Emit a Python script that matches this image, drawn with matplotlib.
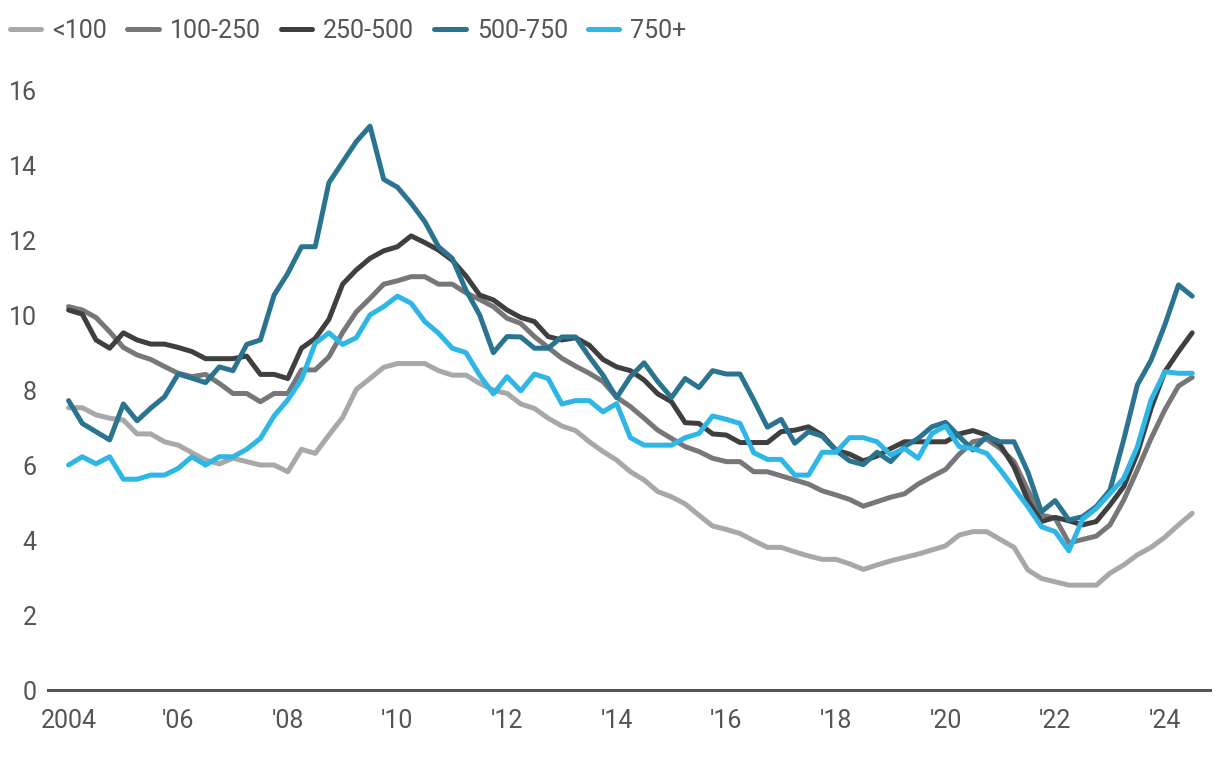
import matplotlib
matplotlib.use("Agg")
import matplotlib.pyplot as plt
import numpy as np

# Quarterly data, 2004 Q1 .. 2024 Q3
start_year = 2004
series_labels = ["<100", "100-250", "250-500", "500-750", "750+"]

lt100 = [7.54, 7.54, 7.35, 7.26, 7.21, 6.84, 6.84, 6.63, 6.54, 6.34,
         6.14, 6.04, 6.19, 6.10, 6.01, 6.01, 5.83, 6.43, 6.32, 6.81,
         7.28, 8.03, 8.32, 8.62, 8.72, 8.72, 8.72, 8.53, 8.41, 8.41,
         8.19, 8.01, 7.92, 7.64, 7.52, 7.26, 7.05, 6.93, 6.63, 6.37,
         6.14, 5.83, 5.61, 5.30, 5.16, 4.97, 4.67, 4.38, 4.29, 4.18,
         3.99, 3.81, 3.81, 3.69, 3.58, 3.49, 3.49, 3.37, 3.22, 3.34,
         3.45, 3.54, 3.63, 3.74, 3.85, 4.14, 4.23, 4.23, 4.02, 3.81,
         3.21, 2.98, 2.89, 2.80, 2.80, 2.80, 3.12, 3.34, 3.61, 3.81,
         4.08, 4.41, 4.72]

s100_250 = [10.24, 10.15, 9.95, 9.57, 9.15, 8.95, 8.83, 8.64, 8.46, 8.37,
            8.43, 8.19, 7.92, 7.92, 7.70, 7.92, 7.92, 8.55, 8.55, 8.90,
            9.55, 10.10, 10.46, 10.84, 10.93, 11.04, 11.04, 10.84, 10.84, 10.61,
            10.43, 10.24, 9.93, 9.79, 9.44, 9.15, 8.86, 8.65, 8.46, 8.24,
            7.82, 7.57, 7.26, 6.94, 6.72, 6.50, 6.37, 6.19, 6.10, 6.10,
            5.83, 5.83, 5.72, 5.61, 5.50, 5.32, 5.21, 5.09, 4.91, 5.03,
            5.15, 5.24, 5.50, 5.70, 5.89, 6.30, 6.63, 6.70, 6.45, 6.10,
            5.34, 4.67, 4.59, 3.93, 4.02, 4.11, 4.41, 5.07, 5.88, 6.72,
            7.48, 8.12, 8.35]

s250_500 = [10.15, 10.04, 9.35, 9.13, 9.54, 9.35, 9.24, 9.24, 9.15, 9.04,
            8.85, 8.85, 8.85, 8.92, 8.43, 8.43, 8.32, 9.13, 9.39, 9.90,
            10.84, 11.22, 11.53, 11.73, 11.84, 12.13, 11.95, 11.75, 11.48, 11.06,
            10.55, 10.42, 10.15, 9.95, 9.84, 9.44, 9.35, 9.41, 9.21, 8.83,
            8.63, 8.53, 8.28, 7.91, 7.70, 7.14, 7.12, 6.84, 6.81, 6.61,
            6.61, 6.61, 6.90, 6.94, 7.03, 6.81, 6.41, 6.30, 6.12, 6.25,
            6.45, 6.63, 6.63, 6.63, 6.63, 6.84, 6.93, 6.81, 6.54, 5.96,
            5.07, 4.50, 4.61, 4.52, 4.41, 4.50, 4.94, 5.43, 6.32, 7.52,
            8.50, 9.04, 9.54]

s500_750 = [7.73, 7.12, 6.90, 6.68, 7.64, 7.19, 7.53, 7.83, 8.44, 8.33,
            8.21, 8.63, 8.53, 9.23, 9.35, 10.55, 11.13, 11.84, 11.84, 13.55,
            14.10, 14.65, 15.06, 13.64, 13.43, 13.00, 12.51, 11.84, 11.53, 10.68,
            10.02, 9.01, 9.44, 9.43, 9.13, 9.13, 9.43, 9.43, 8.90, 8.41,
            7.81, 8.37, 8.74, 8.24, 7.81, 8.32, 8.08, 8.53, 8.44, 8.44,
            7.75, 7.02, 7.23, 6.59, 6.90, 6.78, 6.40, 6.12, 6.02, 6.35,
            6.10, 6.50, 6.72, 7.03, 7.15, 6.77, 6.41, 6.77, 6.63, 6.63,
            5.83, 4.76, 5.06, 4.54, 4.63, 4.90, 5.34, 6.68, 8.15, 8.81,
            9.75, 10.82, 10.52]

s750p = [6.01, 6.23, 6.04, 6.23, 5.63, 5.63, 5.74, 5.74, 5.92, 6.23,
         6.01, 6.23, 6.23, 6.43, 6.72, 7.32, 7.75, 8.30, 9.26, 9.54,
         9.23, 9.41, 10.02, 10.24, 10.52, 10.33, 9.84, 9.53, 9.13, 9.01,
         8.41, 7.91, 8.37, 7.99, 8.44, 8.32, 7.64, 7.73, 7.73, 7.43,
         7.65, 6.74, 6.54, 6.54, 6.54, 6.74, 6.85, 7.32, 7.23, 7.12,
         6.34, 6.16, 6.16, 5.74, 5.74, 6.35, 6.35, 6.74, 6.74, 6.63,
         6.28, 6.45, 6.19, 6.85, 7.05, 6.50, 6.45, 6.32, 5.88, 5.39,
         4.90, 4.36, 4.23, 3.72, 4.56, 4.85, 5.25, 5.65, 6.50, 7.75,
         8.50, 8.46, 8.46]

colors = ["#a7a8aa", "#77777a", "#3f3f3f", "#2a7490", "#2eb6e6"]

tick_years = [2004, 2006, 2008, 2010, 2012, 2014, 2016, 2018, 2020, 2022, 2024]
tick_labels = ["2004", "'06", "'08", "'10", "'12", "'14", "'16", "'18", "'20", "'22", "'24"]
y_ticks = [0, 2, 4, 6, 8, 10, 12, 14, 16]

plt.rcParams['font.family'] = ['Roboto', 'DejaVu Sans']
text_color = "#555555"

fig = plt.figure(figsize=(12.2, 7.78), dpi=100)
ax = fig.add_axes([48 / 1220, 1 - 690 / 778, (1210 - 48) / 1220, (690 - 91) / 778])

all_series = [lt100, s100_250, s250_500, s500_750, s750p]
n = len(lt100)
x = start_year + np.arange(n) / 4.0
for vals, lab, col in zip(all_series, series_labels, colors):
    ax.plot(x, vals, color=col, lw=3.6, label=lab,
            solid_capstyle='round', solid_joinstyle='round')

ax.set_xlim(start_year - 1.5 / 4, start_year + 83.3 / 4)
ax.set_ylim(0, 16)
ax.set_xticks(tick_years)
ax.set_xticklabels(tick_labels)
ax.set_yticks(y_ticks)
ax.tick_params(axis='both', length=0, labelsize=18, labelcolor=text_color)
ax.tick_params(axis='y', pad=8)
ax.tick_params(axis='x', pad=14)
for s in ['top', 'right', 'left']:
    ax.spines[s].set_visible(False)
ax.spines['bottom'].set_color('#555555')
ax.spines['bottom'].set_linewidth(2.2)
ax.set_facecolor('white')

fig.legend(loc='center left', bbox_to_anchor=(10 / 1220, 1 - 31 / 778),
           ncol=5, frameon=False, fontsize=18, labelcolor=text_color,
           handlelength=1.25, handletextpad=0.45, columnspacing=0.8,
           borderpad=0, borderaxespad=0)

fig.savefig("out.png", dpi=100, facecolor='white')
